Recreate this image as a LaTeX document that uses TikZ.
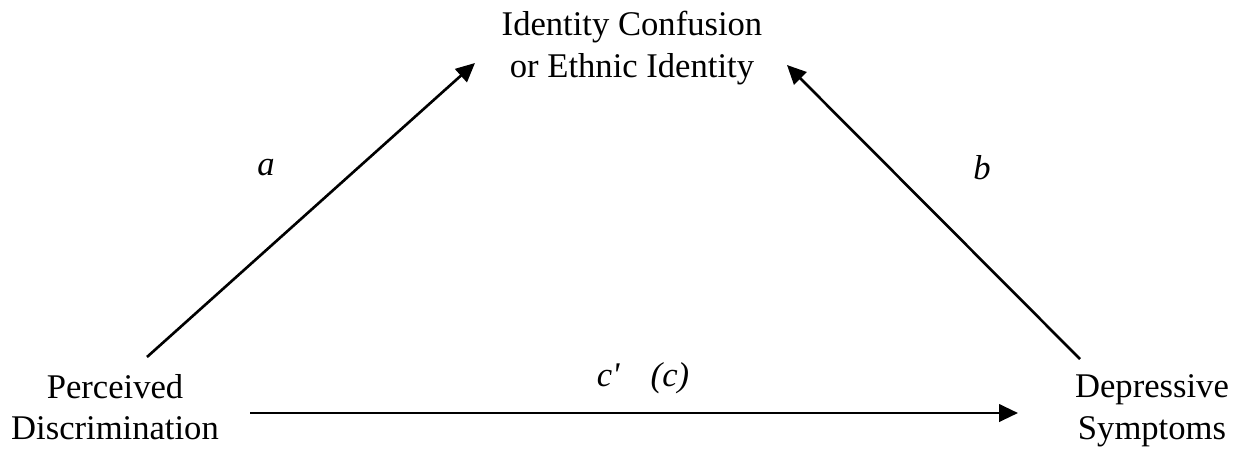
\documentclass[tikz,border=0pt]{standalone}
\usepackage{fontspec}
\setmainfont{Liberation Serif}
\usepackage{tikz}
\usetikzlibrary{arrows.meta,positioning}
\tikzset{
  var/.style={align=center, inner sep=0pt, font=\fontsize{19.7}{23.6}\selectfont},
  lbl/.style={inner sep=0pt, font=\fontsize{19.7}{23.6}\selectfont\itshape},
  path/.style={-{Triangle[length=0.38cm,width=0.35cm]}, draw=black, line width=1.5pt}
}
\begin{document}
\begin{tikzpicture}[x=0.02cm, y=-0.02cm]
 \useasboundingbox (0,0) rectangle (1249,454);
 \node[var] (ic) at (632,48) {Identity Confusion\\or Ethnic Identity};
 \node[var] (pd) at (115,407) {Perceived\\Discrimination};
 \node[var] (dep) at (1152,411) {Depressive\\Symptoms};
 \draw[path] ([shift={(32,-50)}]pd.center) -- ([shift={(-157,15)}]ic.center);
 \draw[path] ([shift={(-72,-52)}]dep.center) -- ([shift={(155,17)}]ic.center);
 \draw[path] ([shift={(135,6)}]pd.center) -- ([shift={(-134,2)}]dep.center);
 \node[lbl] (la) at (266,168) {a};
 \node[lbl] (lb) at (982,168) {b};
 \node[lbl] (lc) at (643,378) {c\textquotesingle\hspace{0.9em}(c)};
\end{tikzpicture}
\end{document}
